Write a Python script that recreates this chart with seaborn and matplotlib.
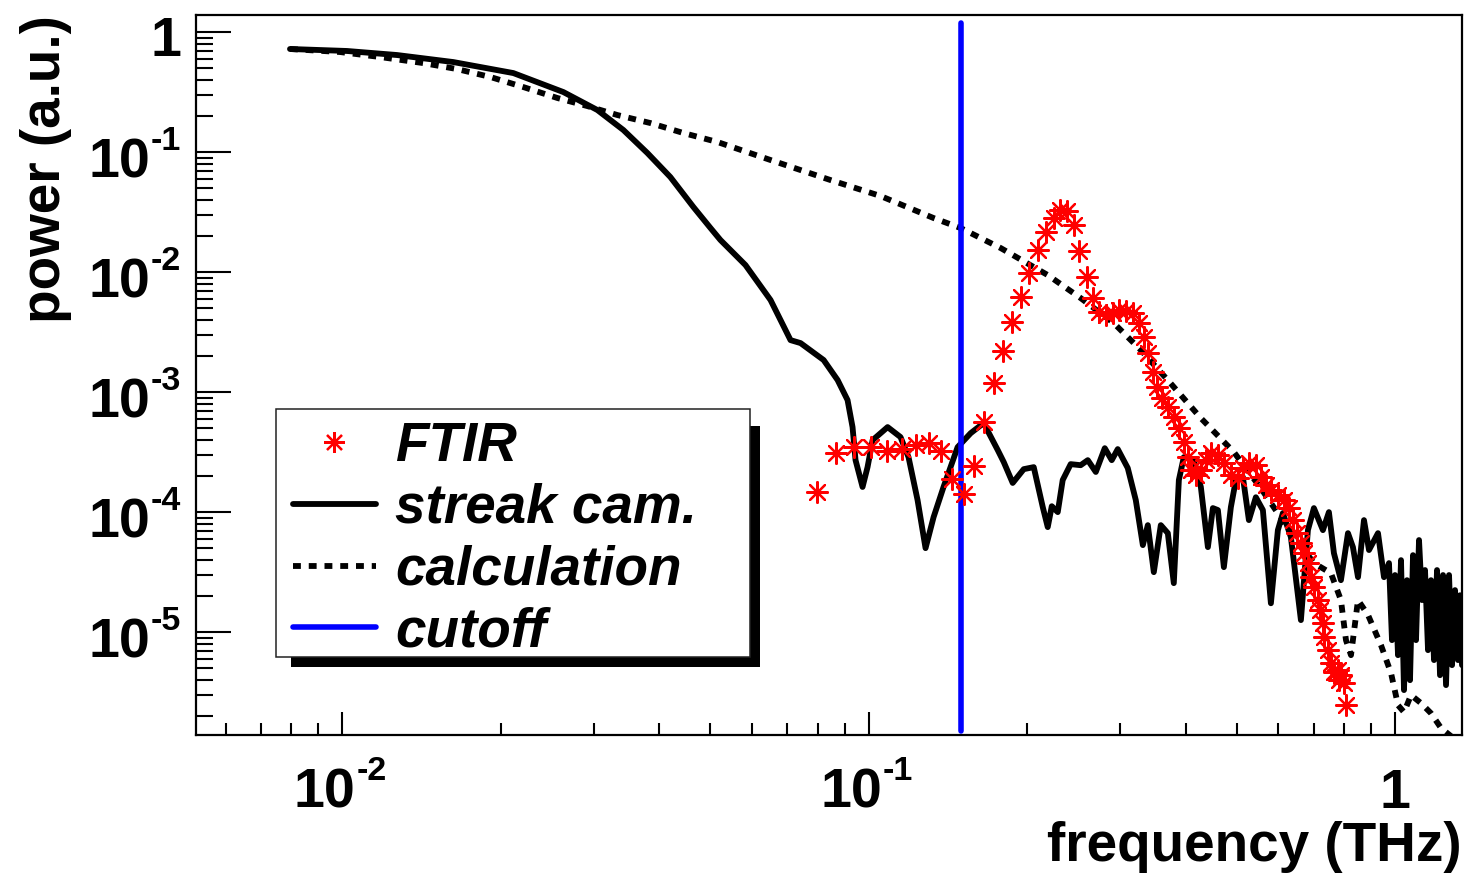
import numpy as np
import matplotlib
matplotlib.use("Agg")
import matplotlib.pyplot as plt
from matplotlib.lines import Line2D
from matplotlib.patches import Rectangle
from matplotlib.ticker import FixedLocator, LogLocator, NullFormatter
import seaborn as sns

# ---------------- data ----------------
streak_freq = [0.00795, 0.0102, 0.0127, 0.01624, 0.02112, 0.02629, 0.0305, 0.03418, 0.03797, 0.04198,
               0.04644, 0.05003, 0.05226, 0.05831, 0.06507, 0.07102, 0.0742, 0.08208, 0.08726, 0.09114,
               0.09315, 0.09438, 0.09732, 0.09947, 0.1017, 0.1086, 0.1149, 0.119, 0.1238, 0.1282,
               0.1328, 0.1387, 0.1475, 0.1562, 0.1653, 0.1758, 0.1805, 0.1877, 0.197, 0.2058,
               0.2141, 0.2188, 0.2227, 0.2286, 0.2336, 0.2419, 0.2527, 0.2607, 0.27, 0.2808,
               0.2895, 0.2972, 0.3105, 0.3216, 0.3317, 0.339, 0.348, 0.3588, 0.37, 0.3798,
               0.3883, 0.3968, 0.4146, 0.4275, 0.4409, 0.4506, 0.4606, 0.4728, 0.4875, 0.4983,
               0.5138, 0.5275, 0.5438, 0.5608, 0.5808, 0.5988, 0.612, 0.6339, 0.6623, 0.6829,
               0.701, 0.7292, 0.7486, 0.7652, 0.789, 0.8137, 0.8315, 0.8502, 0.8727, 0.8921,
               0.9279, 0.9526, 0.9736, 0.9865, 0.9996, 1.0128, 1.0262, 1.0397, 1.0535, 1.0674,
               1.0815, 1.0958, 1.1103, 1.1250, 1.1398, 1.1549, 1.1701, 1.1856, 1.2013, 1.2171,
               1.2332, 1.2495, 1.2661, 1.2828, 1.2997, 1.3169, 1.3285, 1.3401]
streak_power = [0.722, 0.695, 0.643, 0.562, 0.455, 0.316, 0.224, 0.1526, 0.0981, 0.0619,
                0.0348, 0.0233, 0.0185, 0.01144, 0.00585, 0.00271, 0.00256, 0.00185, 0.00126, 8.58e-4,
                5.11e-4, 2.71e-4, 1.62e-4, 2.37e-4, 3.98e-4, 5.11e-4, 4.22e-4, 2.87e-4, 1.26e-4, 5.01e-5,
                9.09e-5, 1.62e-4, 3.48e-4, 4.55e-4, 5.52e-4, 3.29e-4, 2.61e-4, 1.75e-4, 2.28e-4, 2.37e-4,
                1.10e-4, 7.50e-5, 1.12e-4, 1.0e-4, 1.85e-4, 2.51e-4, 2.46e-4, 2.71e-4, 2.16e-4, 3.41e-4,
                2.71e-4, 3.35e-4, 2.33e-4, 1.26e-4, 5.31e-5, 7.79e-5, 3.16e-5, 7.79e-5, 6.68e-5, 2.56e-5,
                1.85e-4, 2.87e-4, 2.71e-4, 1.62e-4, 5.11e-5, 1.08e-4, 1.04e-4, 3.48e-5, 1.10e-4, 1.85e-4,
                1.96e-4, 8.58e-5, 1.33e-4, 1.04e-4, 1.74e-5, 7.08e-5, 9.81e-5, 6.19e-5, 1.26e-5, 7.08e-5,
                1.08e-4, 7.08e-5, 1.0e-4, 4.55e-5, 2.71e-5, 6.68e-5, 5.11e-5, 2.87e-5, 8.58e-5, 4.83e-5,
                6.68e-5, 2.87e-5, 3.76e-5, 8.58e-6, 2.99e-5, 6.43e-6, 3.98e-5, 3.29e-6, 2.71e-5, 3.98e-6,
                4.38e-5, 8.58e-6, 5.85e-5, 1.85e-5, 3.29e-5, 7.08e-6, 2.71e-5, 5.85e-6, 3.29e-5, 4.38e-6,
                2.99e-5, 3.62e-6, 2.99e-5, 5.31e-6, 2.24e-5, 5.85e-6, 2.03e-5, 5.31e-6]

calc_freq = [0.00795, 0.0099, 0.01179, 0.01424, 0.01652, 0.0191, 0.02206, 0.02561, 0.02919, 0.03329,
             0.03847, 0.04445, 0.05159, 0.06507, 0.08461, 0.1053, 0.1328, 0.1495, 0.1781, 0.2188,
             0.2527, 0.292, 0.3287, 0.3741, 0.4275, 0.494, 0.5559, 0.6257, 0.701, 0.7552,
             0.789, 0.8066, 0.8245, 0.8502, 0.8882, 0.9401, 0.9824, 1.013, 1.04, 1.072,
             1.12, 1.17, 1.223, 1.277]
calc_power = [0.722, 0.681, 0.619, 0.551, 0.491, 0.422, 0.348, 0.282, 0.2416, 0.2034,
              0.1744, 0.144, 0.1212, 0.0858, 0.0584, 0.043, 0.02818, 0.02326, 0.01585, 0.00944,
              0.00607, 0.00376, 0.00224, 0.00119, 6.07e-4, 3.16e-4, 1.58e-4, 7.36e-5, 3.76e-5, 3.10e-5,
              1.85e-5, 8.58e-6, 6.43e-6, 1.85e-5, 1.39e-5, 7.79e-6, 4.55e-6, 2.46e-6, 2.15e-6, 2.99e-6,
              2.56e-6, 2.11e-6, 1.585e-6, 1.36e-6]

ftir_freq = [0.07958, 0.08648, 0.09357, 0.1012, 0.1081, 0.1154, 0.1227, 0.1299, 0.1369, 0.1437,
             0.1515, 0.1582, 0.1653, 0.1727, 0.1796, 0.1868, 0.1944, 0.2013, 0.2094, 0.2169,
             0.2246, 0.2306, 0.2377, 0.2451, 0.2505, 0.2594, 0.2663, 0.2735, 0.2820, 0.2908,
             0.2985, 0.3078, 0.3173, 0.3258, 0.3330, 0.3390, 0.3465, 0.3526, 0.3604, 0.3700,
             0.3798, 0.3883, 0.3968, 0.4038, 0.4091, 0.4182, 0.4275, 0.4370, 0.4467, 0.4606,
             0.4728, 0.4875, 0.5027, 0.5138, 0.5275, 0.5438, 0.5559, 0.5682, 0.5808, 0.5988,
             0.6147, 0.6284, 0.6395, 0.6509, 0.6623, 0.6711, 0.6829, 0.6919, 0.7010, 0.7134,
             0.7197, 0.7292, 0.7342, 0.7455, 0.7552, 0.7652, 0.7786, 0.7890, 0.7995, 0.7821,
             0.8066]
ftir_power = [1.468e-4, 3.10e-4, 3.48e-4, 3.48e-4, 3.22e-4, 3.35e-4, 3.62e-4, 3.76e-4, 3.22e-4, 1.88e-4,
              1.41e-4, 2.42e-4, 5.62e-4, 1.19e-3, 2.20e-3, 3.83e-3, 6.19e-3, 9.81e-3, 1.525e-2, 2.15e-2,
              2.82e-2, 3.29e-2, 3.22e-2, 2.46e-2, 1.50e-2, 9.09e-3, 6.07e-3, 4.64e-3, 4.38e-3, 4.55e-3,
              4.83e-3, 4.73e-3, 4.55e-3, 3.76e-3, 2.87e-3, 2.11e-3, 1.47e-3, 1.10e-3, 8.91e-4, 7.50e-4,
              6.19e-4, 5.01e-4, 3.83e-4, 2.87e-4, 2.24e-4, 2.03e-4, 2.24e-4, 2.71e-4, 3.10e-4, 2.99e-4,
              2.56e-4, 2.03e-4, 1.92e-4, 2.33e-4, 2.56e-4, 2.46e-4, 1.96e-4, 1.68e-4, 1.53e-4, 1.39e-4,
              1.26e-4, 1.08e-4, 8.58e-5, 6.68e-5, 5.52e-5, 4.55e-5, 3.76e-5, 2.87e-5, 2.37e-5, 1.85e-5,
              1.53e-5, 1.19e-5, 9.09e-6, 7.08e-6, 5.52e-6, 4.64e-6, 4.83e-6, 4.38e-6, 3.76e-6, 3.98e-6,
              2.46e-6]

cutoff_freq = [0.15, 0.15]
cutoff_power = [1.5e-6, 1.2]

legend_labels = ["FTIR", "streak cam.", "calculation", "cutoff"]
x_major = [0.01, 0.1, 1.0]
y_major = [1e-5, 1e-4, 1e-3, 1e-2, 1e-1, 1.0]

# ---------------- style ----------------
sns.set_theme(style="white")
plt.rcParams["font.family"] = ["Liberation Sans", "DejaVu Sans"]
plt.rcParams["font.weight"] = "bold"
plt.rcParams["text.color"] = "black"
plt.rcParams["axes.labelcolor"] = "black"
plt.rcParams["xtick.color"] = "black"
plt.rcParams["ytick.color"] = "black"

FS = 39.5       # axis titles / legend
FS_TICK = 40    # tick-label mantissa
FS_EXP = 24.5   # tick-label exponent
LW = 4.2

fig = plt.figure(figsize=(14.65, 8.74), dpi=100)
fig.patch.set_facecolor("white")
ax = fig.add_axes([196 / 1465, (874 - 735) / 874, 1266 / 1465, 720 / 874])
ax.set_facecolor("white")
ax.set_xscale("log")
ax.set_yscale("log")

star = (8, 2, 0)

sns.lineplot(x=streak_freq, y=streak_power, ax=ax, color="black", linewidth=LW,
             sort=False, estimator=None, zorder=3)
sns.lineplot(x=calc_freq, y=calc_power, ax=ax, color="black", linewidth=LW,
             sort=False, estimator=None, zorder=3,
             linestyle=(0, (1.35, 1.35)), dash_capstyle="butt")
sns.lineplot(x=cutoff_freq, y=cutoff_power, ax=ax, color="#0000ff", linewidth=4.0,
             sort=False, estimator=None, zorder=4)
sns.scatterplot(x=ftir_freq, y=ftir_power, ax=ax, marker=star, s=15 ** 2,
                color="red", linewidth=1.6, zorder=5)

ax.set_xlim(0.00527, 1.34)
ax.set_ylim(1.39e-6, 1.386)

ax.xaxis.set_major_locator(FixedLocator(x_major))
ax.yaxis.set_major_locator(FixedLocator(y_major))
ax.xaxis.set_major_formatter(NullFormatter())
ax.yaxis.set_major_formatter(NullFormatter())
ax.xaxis.set_minor_locator(LogLocator(base=10, subs=np.arange(2, 10), numticks=20))
ax.yaxis.set_minor_locator(LogLocator(base=10, subs=np.arange(2, 10), numticks=20))
ax.xaxis.set_minor_formatter(NullFormatter())
ax.yaxis.set_minor_formatter(NullFormatter())

ax.tick_params(axis="both", which="both", direction="in", color="black", width=1.5,
               bottom=True, left=True, top=False, right=False)
ax.tick_params(axis="y", which="major", length=25)
ax.tick_params(axis="y", which="minor", length=12)
ax.tick_params(axis="x", which="major", length=16.5)
ax.tick_params(axis="x", which="minor", length=8.5)
for sp in ax.spines.values():
    sp.set_visible(True)
    sp.set_color("black")
    sp.set_linewidth(1.6)

# ROOT-style tick labels: big mantissa, small raised exponent with a short hyphen
tick_font = dict(family="Liberation Sans", weight="bold", color="black")
for v in x_major:
    e = int(round(np.log10(v)))
    tr = ax.get_xaxis_transform()
    if e == 0:
        ax.annotate("1", xy=(v, 0), xycoords=tr, xytext=(0, -73), textcoords="offset pixels",
                    ha="center", va="baseline", fontsize=FS_TICK, annotation_clip=False, **tick_font)
    else:
        ax.annotate("10", xy=(v, 0), xycoords=tr, xytext=(13, -73), textcoords="offset pixels",
                    ha="right", va="baseline", fontsize=FS_TICK, annotation_clip=False, **tick_font)
        ax.annotate("%d" % e, xy=(v, 0), xycoords=tr, xytext=(14, -45), textcoords="offset pixels",
                    ha="left", va="baseline", fontsize=FS_EXP, annotation_clip=False, **tick_font)
for v in y_major:
    e = int(round(np.log10(v)))
    tr = ax.get_yaxis_transform()
    if e == 0:
        ax.annotate("1", xy=(0, v), xycoords=tr, xytext=(-15, -24), textcoords="offset pixels",
                    ha="right", va="baseline", fontsize=FS_TICK, annotation_clip=False, **tick_font)
    else:
        ax.annotate("10", xy=(0, v), xycoords=tr, xytext=(-46, -25), textcoords="offset pixels",
                    ha="right", va="baseline", fontsize=FS_TICK, annotation_clip=False, **tick_font)
        ax.annotate("%d" % e, xy=(0, v), xycoords=tr, xytext=(-45, 2), textcoords="offset pixels",
                    ha="left", va="baseline", fontsize=FS_EXP, annotation_clip=False, **tick_font)

ax.set_xlabel("frequency (THz)", fontsize=FS, fontweight="bold", loc="right")
ax.set_ylabel("power (a.u.)", fontsize=FS, fontweight="bold", loc="top")
ax.xaxis.set_label_coords(1.0, -(821 - 735) / 720)
ax.yaxis.set_label_coords((72 - 196) / 1266, 1.0)
ax.grid(False)

# ---------------- legend ----------------
handles = [
    Line2D([], [], color="red", marker=star, linestyle="none", markersize=15, markeredgewidth=1.6),
    Line2D([], [], color="black", linewidth=LW),
    Line2D([], [], color="black", linewidth=LW, linestyle=(0, (1.35, 1.35)), dash_capstyle="butt"),
    Line2D([], [], color="#0000ff", linewidth=4.0),
]
leg = ax.legend(handles, legend_labels, loc="upper left",
                bbox_to_anchor=((293 - 196) / 1266, (735 - 421) / 720),
                frameon=False, borderpad=0, borderaxespad=0, labelspacing=0.18,
                handlelength=1.51, handletextpad=0.35,
                prop=dict(family="Liberation Sans", weight="bold", style="italic", size=FS))
for t in leg.get_texts():
    t.set_color("black")
leg.set_zorder(12)
shadow = Rectangle(((291 - 196) / 1266, (735 - 667) / 720), (760 - 291) / 1266, (667 - 426) / 720,
                   transform=ax.transAxes, facecolor="black", edgecolor="none", zorder=10)
frame = Rectangle(((276 - 196) / 1266, (735 - 657) / 720), (750 - 276) / 1266, (657 - 409) / 720,
                  transform=ax.transAxes, facecolor="white", edgecolor="#222222", linewidth=1.1, zorder=11)
ax.add_patch(shadow)
ax.add_patch(frame)

fig.savefig("out.png", dpi=100, facecolor="white")
